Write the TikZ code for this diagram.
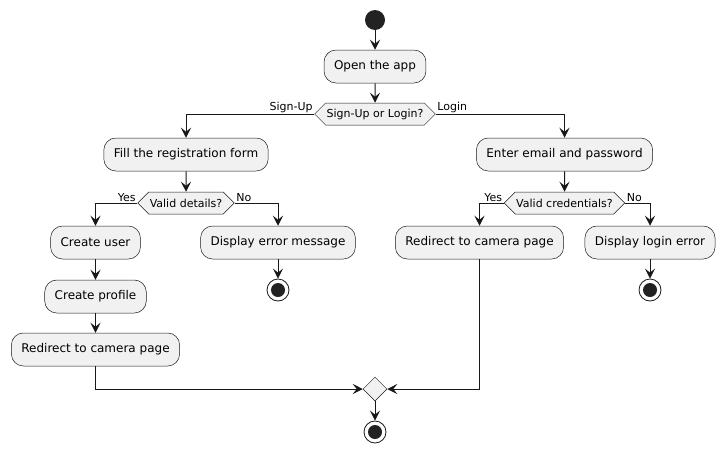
\documentclass[tikz,border=0pt]{standalone}
\usepackage{fontspec}
\setmainfont{DejaVu Sans}
\usetikzlibrary{shapes.geometric,shapes.symbols,arrows.meta,positioning}
\definecolor{umlfill}{HTML}{F1F1F1}
\definecolor{umlline}{HTML}{181818}
\definecolor{umldot}{HTML}{222222}

\begin{document}
\begin{tikzpicture}[x=1pt, y=-1pt,
        action/.style={rectangle, rounded corners=12pt, draw=umlline, line width=0.5pt, fill=umlfill, minimum height=33pt, inner xsep=10pt, font=\fontsize{12}{14}\selectfont},
        decision/.style={signal, signal to=west and east, signal pointer angle=90, draw=umlline, line width=0.5pt, fill=umlfill, minimum height=22pt, inner xsep=1pt, inner ysep=2pt, font=\fontsize{11}{13}\selectfont},
        merge/.style={diamond, draw=umlline, line width=0.5pt, fill=umlfill, minimum size=24pt, inner sep=0pt},
        startdot/.style={circle, fill=umldot, minimum size=20pt, inner sep=0pt},
        stopdot/.style={circle, draw=umlline, line width=0.8pt, fill=white, minimum size=22pt, inner sep=0pt, path picture={\fill[umldot] (path picture bounding box.center) circle (7pt);}},
        branch/.style={font=\fontsize{11}{13}\selectfont, inner sep=1.5pt},
        arrow/.style={-{Stealth[length=10pt, width=10pt, inset=4pt]}, line width=1pt, draw=umlline}]

        \useasboundingbox (0,0) rectangle (725,453);

        % Nodes
        \node[startdot] (start) at (375,20) {};
        \node[action] (open) at (375,66.5) {Open the app};
        \node[decision] (choice) at (375,114) {Sign-Up or Login?};

        \node[action] (fill) at (186,154.5) {Fill the registration form};
        \node[decision] (details) at (186,203) {Valid details?};
        \node[action] (create) at (95.5,242.5) {Create user};
        \node[action] (profile) at (95.5,296.5) {Create profile};
        \node[action] (redirA) at (95.5,349.5) {Redirect to camera page};
        \node[action] (errmsg) at (278,242.5) {Display error message};
        \node[stopdot] (stopA) at (278,290) {};

        \node[action] (enter) at (564.5,154.5) {Enter email and password};
        \node[decision] (creds) at (564.5,203) {Valid credentials?};
        \node[action] (redirB) at (479.5,242.5) {Redirect to camera page};
        \node[action] (loginerr) at (650,242.5) {Display login error};
        \node[stopdot] (stopB) at (650,290) {};

        \node[merge] (join) at (375,389) {};
        \node[stopdot] (stopC) at (375,432) {};

        % Connections
        \draw[arrow] (start) -- (open);
        \draw[arrow] (open) -- (choice);
        \draw[arrow] (choice.west) -| (fill.north);
        \node[branch, anchor=south east] at (choice.west) {Sign-Up};
        \draw[arrow] (choice.east) -| (enter.north);
        \node[branch, anchor=south west] at (choice.east) {Login};

        \draw[arrow] (fill) -- (details);
        \draw[arrow] (details.west) -| (create.north);
        \node[branch, anchor=south east] at (details.west) {Yes};
        \draw[arrow] (details.east) -| (errmsg.north);
        \node[branch, anchor=south west] at (details.east) {No};
        \draw[arrow] (create) -- (profile);
        \draw[arrow] (profile) -- (redirA);
        \draw[arrow] (errmsg) -- (stopA);

        \draw[arrow] (enter) -- (creds);
        \draw[arrow] (creds.west) -| (redirB.north);
        \node[branch, anchor=south east] at (creds.west) {Yes};
        \draw[arrow] (creds.east) -| (loginerr.north);
        \node[branch, anchor=south west] at (creds.east) {No};
        \draw[arrow] (loginerr) -- (stopB);

        % Merge of both redirects
        \draw[arrow] (redirA.south) |- (join.west);
        \draw[arrow] (redirB.south) |- (join.east);
        \draw[arrow] (join) -- (stopC);

    \end{tikzpicture}
\end{document}
